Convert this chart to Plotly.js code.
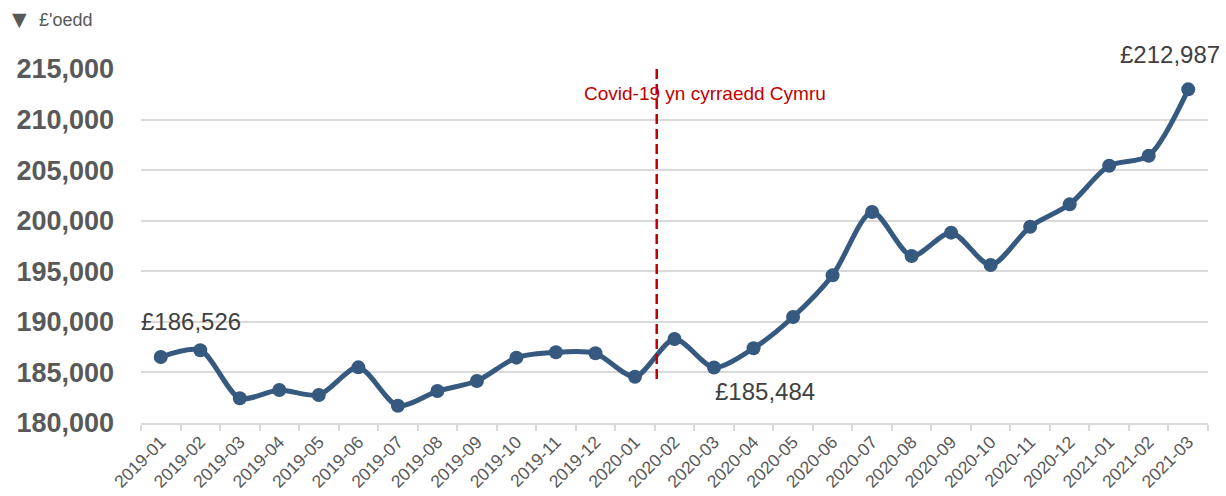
<!DOCTYPE html>
<html>
<head>
<meta charset="utf-8">
<script src="https://cdn.plot.ly/plotly-3.0.1.min.js"></script>
<style>html,body{margin:0;padding:0;background:#fff;}#chart{width:1226px;height:496px;}</style>
</head>
<body>
<div id="chart"></div>
<script>
const months = ["2019-01","2019-02","2019-03","2019-04","2019-05","2019-06","2019-07","2019-08","2019-09","2019-10","2019-11","2019-12","2020-01","2020-02","2020-03","2020-04","2020-05","2020-06","2020-07","2020-08","2020-09","2020-10","2020-11","2020-12","2021-01","2021-02","2021-03"];
const prices = [186526,187200,182450,183260,182770,185500,181710,183160,184150,186460,186990,186890,184580,188300,185484,187390,190480,194600,200860,196510,198820,195620,199410,201620,205440,206430,212987];
const yTicks = [180000,185000,190000,195000,200000,205000,210000,215000];
const unitMarker = "▼";
const unitLabel = "£'oedd";
const covidLabel = "Covid-19 yn cyrraedd Cymru";
const covidPos = 12.55;
const covidRange = [184350, 215000];
const labelled = [
  {i: 0, text: "£186,526", yshift: 35, xshift: 30},
  {i: 14, text: "£185,484", yshift: -24, xshift: 51},
  {i: 26, text: "£212,987", yshift: 35, xshift: -18}
];
const fontFam = "'Liberation Sans', Arial, sans-serif";

const trace = {
  x: months, y: prices, type: 'scatter', mode: 'lines+markers',
  line: {color: '#36597f', width: 5, shape: 'spline', smoothing: 0.8},
  marker: {color: '#36597f', size: 14},
  hoverinfo: 'x+y', showlegend: false
};

const annotations = labelled.map(a => ({
  x: months[a.i], y: prices[a.i], xref: 'x', yref: 'y', text: a.text,
  showarrow: false, yshift: a.yshift, xshift: a.xshift,
  font: {family: fontFam, size: 24, color: '#404040'}
}));
annotations.push({
  x: covidPos, y: 212600, xref: 'x', yref: 'y', text: covidLabel, showarrow: false,
  xshift: 48, font: {family: fontFam, size: 19, color: '#c00000'}
});
annotations.push({
  x: (10 - 141) / 1067, y: (423 - 19) / 354, xref: 'paper', yref: 'paper',
  xanchor: 'left', yanchor: 'middle',
  text: unitMarker, showarrow: false,
  font: {family: "'DejaVu Sans', sans-serif", size: 19, color: '#595959'}
});
annotations.push({
  x: (37 - 141) / 1067, y: (423 - 20) / 354, xref: 'paper', yref: 'paper',
  xanchor: 'left', yanchor: 'middle',
  text: unitLabel, showarrow: false,
  font: {family: fontFam, size: 18, color: '#595959'}
});

const layout = {
  width: 1226, height: 496,
  margin: {l: 141, r: 18, t: 69, b: 73},
  paper_bgcolor: '#fff', plot_bgcolor: '#fff',
  xaxis: {
    type: 'category', tickangle: -45, tickson: 'boundaries',
    ticks: 'outside', ticklen: 6, tickcolor: '#d9d9d9', tickwidth: 2,
    showline: true, linecolor: '#d9d9d9', linewidth: 2,
    showgrid: false, zeroline: false,
    tickfont: {family: fontFam, size: 17.5, color: '#595959'},
    range: [-0.5, 26.5]
  },
  yaxis: {
    range: [180000, 215000], tickvals: yTicks, tickformat: ',d',
    showgrid: true, gridcolor: '#d9d9d9', gridwidth: 2,
    zeroline: false, showline: false, ticks: '',
    ticklabelstandoff: 26,
    tickfont: {family: fontFam, size: 27, color: '#595959', weight: 'bold'}
  },
  shapes: [{
    type: 'line', xref: 'x', yref: 'y', x0: covidPos, x1: covidPos,
    y0: covidRange[0], y1: covidRange[1],
    line: {color: '#c00000', width: 2.5, dash: '10px,5px'}
  }],
  annotations: annotations
};

Plotly.newPlot('chart', [trace], layout, {displayModeBar: false, staticPlot: true});
</script>
</body>
</html>
